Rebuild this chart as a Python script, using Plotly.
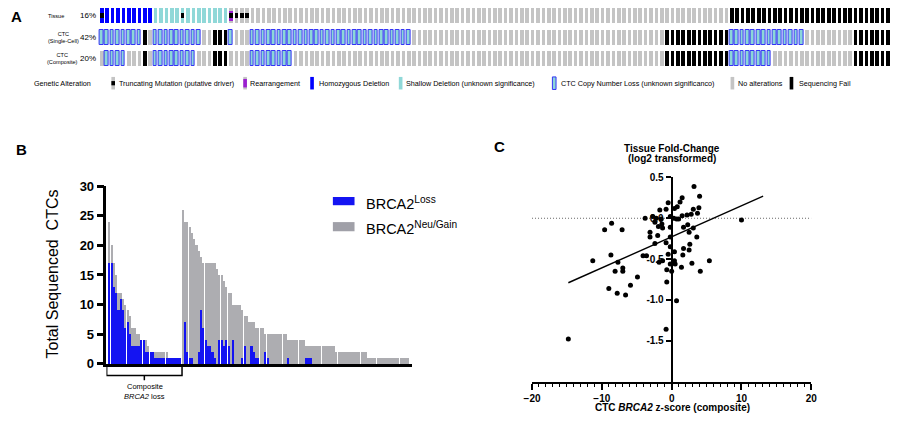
import plotly.graph_objects as go

W, H = 900, 423
FONT = "Liberation Sans, Arial, sans-serif"

# ---------------- Panel A data (oncoprint, one column per patient) ----------------
tissue_runs = [("HOMDEL", 10), ("SHALLOW", 14), ("NONE", 93), ("FAIL", 30)]
single_cell_runs = [("CTC", 8), ("FAIL", 1), ("NONE", 1), ("CTC", 9), ("NONE", 2), ("FAIL", 3),
                    ("CTC", 1), ("NONE", 3), ("CTC", 30), ("NONE", 47), ("FAIL", 12), ("CTC", 14),
                    ("NONE", 9), ("FAIL", 7)]
composite_runs = [("NONE", 1), ("CTC", 4), ("NONE", 3), ("FAIL", 1), ("NONE", 1), ("CTC", 8),
                  ("NONE", 3), ("FAIL", 3), ("NONE", 4), ("CTC", 8), ("NONE", 69), ("FAIL", 12),
                  ("CTC", 8), ("NONE", 15), ("FAIL", 7)]
tissue_truncating = [0, 15, 24, 25, 26, 27]
tissue_rearrangement = [24]
row_labels = ["Tissue", "CTC<br>(Single-Cell)", "CTC<br>(Composite)"]
row_pcts = ["16%", "42%", "20%"]
legend_labels = ["Truncating Mutation (putative driver)", "Rearrangement", "Homozygous Deletion",
                 "Shallow Deletion (unknown significance)",
                 "CTC Copy Number Loss (unknown significanco)", "No alterations", "Sequencing Fail"]

# ---------------- Panel B data ----------------
loss_counts = [17, 17, 13, 12, 9, 11, 9, 6, 7, 5, 3, 3, 3, 3, 4, 4, 2, 2, 2, 2,
               1, 1, 1, 1, 1, 1, 1, 1, 1, 1, 1, 1,
               0, 7, 2, 1, 1, 0, 0, 2, 9, 6, 4, 3, 3, 2, 1, 0, 4, 4, 3, 4,
               3, 0, 4, 0, 0, 0, 1, 3, 0, 0, 3, 2, 1, 1, 0, 0, 2, 1,
               0, 0, 0, 0, 0, 0, 0, 0, 1, 0, 0, 0, 0, 0, 0, 0, 1, 1, 1,
               0, 0, 0, 0, 0, 0, 0, 0, 0, 0, 0, 0, 0, 0, 0, 0, 0, 0, 0, 0, 0,
               0, 0, 0, 0, 0, 0, 0, 0, 0, 0, 0, 0, 0, 0, 0, 0, 0, 0, 0, 0, 0]
total_counts = [24, 20, 17, 15, 12, 12, 11, 10, 9, 8, 6, 6, 5, 5, 4, 4, 4, 3, 2, 2,
                2, 2, 2, 2, 2, 2, 1, 1, 1, 1, 1, 1,
                26, 24, 24, 23, 22, 21, 20, 19, 18, 17, 17, 17, 17, 17, 17, 16, 15, 15, 14, 13,
                12, 12, 10, 10, 10, 10, 9, 8, 8, 7, 7, 7, 6, 6, 6, 6, 5, 5, 5, 5,
                5, 5, 5, 5, 5, 5, 4, 4, 4, 4, 4, 4, 4, 4, 3, 3, 3, 3, 3, 3, 3,
                3, 3, 3, 3, 3, 3, 2, 2, 2, 2, 2, 2, 2, 2, 2, 2, 2, 2, 2, 2, 1,
                1, 1, 1, 1, 1, 1, 1, 1, 1, 1, 1, 1, 1, 1, 1, 1, 1]
composite_loss_n = 32

# ---------------- Panel C data ----------------
zscore = [3.2, 4.0, 1.5, -0.5, 0.8, 1.2, -1.7, -0.8, 0.4, 3.1, 3.9, 2.2, 2.8, 3.7, 1.5,
          -3.8, -2.7, -2.2, -1.5, -0.2, 0.3, 0.7, 1.0, 10.0, -2.4, -1.4, -1.9, -1.3, -0.2, 1.7,
          3.1, 2.3, -9.6, -8.6, -7.1, -3.1, -3.1, -2.0, -0.2, 2.5, 3.6, -2.4, -0.8, -0.2, 2.6,
          1.7, -0.5, 0.4, 1.6, 2.5, -8.7, -11.3, -7.7, -4.1, -3.6, -1.8, -1.3, 0.4, -0.2, 0.5,
          2.9, 5.4, -7.0, -7.0, -8.1, -0.7, 0.0, 1.4, 4.1, -0.7, -5.9, -9.0, -7.8, -6.6, 0.7,
          -0.8, -14.8, -4.9]
fold_change = [0.39, 0.27, 0.25, 0.19, 0.14, 0.20, 0.10, 0.11, 0.12, 0.11, 0.13, 0.04, 0.05, 0.06, 0.03,
               0.0, 0.02, 0.0, -0.01, 0.02, 0.0, -0.01, -0.01, -0.02, -0.05, -0.07, -0.10, -0.12, -0.11, -0.11,
               -0.12, -0.08, -0.14, -0.06, -0.14, -0.17, -0.23, -0.21, -0.23, -0.17, -0.23, -0.31, -0.30, -0.35, -0.32,
               -0.37, -0.44, -0.41, -0.45, -0.39, -0.45, -0.52, -0.54, -0.46, -0.46, -0.54, -0.52, -0.52, -0.56, -0.56,
               -0.55, -0.52, -0.61, -0.65, -0.65, -0.63, -0.65, -0.60, -0.65, -0.78, -0.82, -0.86, -0.92, -0.94, -1.01,
               -1.36, -1.48, -0.72]
fit_x = [-14.8, 13.1]
fit_y = [-0.79, 0.27]


def px(x):
    return x / W


def py(y):
    return 1 - y / H


def expand(runs):
    out = []
    for cat, n in runs:
        out += [cat] * n
    return out


fig = go.Figure()

# ---------------- Panel A: oncoprint ----------------
cat_color = {"HOMDEL": "#0000FF", "SHALLOW": "#90D8D8", "NONE": "#C4C4C4", "FAIL": "#000000", "CTC": "#8CD6D8"}
row_base = [2.22, 1.2, 0.18]
row_h = 0.72
col_w = 0.68
rows = [expand(tissue_runs), expand(single_cell_runs), expand(composite_runs)]
for r, cats in enumerate(rows):
    for cat in ["NONE", "HOMDEL", "SHALLOW", "FAIL", "CTC"]:
        cols = [i for i, c in enumerate(cats) if c == cat]
        if not cols:
            continue
        line = dict(color="#3434F5", width=1) if cat == "CTC" else dict(width=0)
        fig.add_trace(go.Bar(x=cols, y=[row_h] * len(cols), base=[row_base[r]] * len(cols),
                             width=col_w, marker=dict(color=cat_color[cat], line=line),
                             xaxis="x", yaxis="y", hoverinfo="skip", showlegend=False))

fig.add_trace(go.Bar(x=tissue_rearrangement, y=[row_h * 0.64] * len(tissue_rearrangement),
                     base=[row_base[0] + row_h * 0.18] * len(tissue_rearrangement), width=col_w,
                     marker=dict(color="#9B1FD0", line=dict(width=0)),
                     xaxis="x", yaxis="y", hoverinfo="skip", showlegend=False))
fig.add_trace(go.Bar(x=tissue_truncating, y=[row_h / 3] * len(tissue_truncating),
                     base=[row_base[0] + row_h / 3] * len(tissue_truncating), width=col_w,
                     marker=dict(color="#000000", line=dict(width=0)),
                     xaxis="x", yaxis="y", hoverinfo="skip", showlegend=False))

# ---------------- Panel B: bars ----------------
idx = list(range(len(total_counts)))
fig.add_trace(go.Bar(x=idx, y=total_counts, width=0.72, marker=dict(color="#ADADB1", line=dict(width=0)),
                     xaxis="x2", yaxis="y2", name="BRCA2 Neu/Gain", showlegend=False))
fig.add_trace(go.Bar(x=idx, y=loss_counts, width=0.72, marker=dict(color="#1414F2", line=dict(width=0)),
                     xaxis="x2", yaxis="y2", name="BRCA2 Loss", showlegend=False))

# ---------------- Panel C: scatter ----------------
fig.add_trace(go.Scatter(x=fit_x, y=fit_y, mode="lines", line=dict(color="black", width=1.4),
                         xaxis="x3", yaxis="y3", showlegend=False, hoverinfo="skip"))
fig.add_trace(go.Scatter(x=zscore, y=fold_change, mode="markers",
                         marker=dict(color="black", size=5),
                         xaxis="x3", yaxis="y3", showlegend=False))

c_xr = [-20, 20]
c_dom = [px(532.3), px(816)]
c_ypos = c_dom[0] + (0 - c_xr[0]) / (c_xr[1] - c_xr[0]) * (c_dom[1] - c_dom[0])
bold10 = dict(family=FONT, size=10, color="black", weight="bold")

fig.update_layout(
    width=W, height=H, margin=dict(l=0, r=0, t=0, b=0),
    paper_bgcolor="white", plot_bgcolor="white", hovermode=False,
    barmode="overlay", bargap=0, font=dict(family=FONT, color="black"),
    xaxis=dict(domain=[px(90), 1], range=[-0.89, 147.2], visible=False, fixedrange=True),
    yaxis=dict(domain=[py(65), 1], range=[0, 3], visible=False, fixedrange=True),
    xaxis2=dict(domain=[px(100), px(410)], range=[-1.55, 131.5], anchor="y2",
                showline=True, linecolor="black", linewidth=3, showticklabels=False,
                ticks="", showgrid=False, zeroline=False),
    yaxis2=dict(domain=[py(370), py(185.7)], range=[0, 30], anchor="x2",
                showline=True, linecolor="black", linewidth=2.5, ticks="outside",
                ticklen=7, tickwidth=2.5, tickcolor="black", dtick=5, showgrid=False, zeroline=False,
                tickfont=dict(family=FONT, size=13, color="black", weight="bold")),
    xaxis3=dict(domain=c_dom, range=c_xr, anchor="y3", showline=True, linecolor="black",
                linewidth=2, ticks="outside", ticklen=6, tickwidth=2, tickcolor="black",
                tickvals=[-20, -10, 0, 10, 20], showgrid=False, zeroline=False, tickfont=bold10,
                minor=dict(dtick=1, tick0=0, ticks="outside", ticklen=3, tickwidth=1,
                           tickcolor="black", showgrid=False)),
    yaxis3=dict(domain=[py(388.3), py(176.7)], range=[-2.0, 0.5], anchor="free", position=c_ypos,
                showline=True, linecolor="black", linewidth=2, ticks="outside", ticklen=5,
                tickwidth=2, tickcolor="black", tickvals=[0.5, 0, -0.5, -1.0, -1.5],
                ticktext=["0.5", "0.0", "-0.5", "-1.0", "-1.5"], showgrid=False, zeroline=False,
                tickfont=bold10),
)

shapes = []
annotations = []


def text(x, y, s, size, xanchor="center", bold=False, angle=0):
    annotations.append(dict(x=px(x), y=py(y), xref="paper", yref="paper", text=s, showarrow=False,
                            xanchor=xanchor, yanchor="middle", textangle=angle, borderpad=0,
                            font=dict(family=FONT, size=size, color="black",
                                      weight="bold" if bold else "normal")))


def rect(x0, y0, x1, y1, fill, line=None):
    shapes.append(dict(type="rect", xref="paper", yref="paper", x0=px(x0), x1=px(x1),
                       y0=py(y1), y1=py(y0), fillcolor=fill,
                       line=line if line else dict(width=0), layer="above"))


# panel letters
text(9, 10, "A", 15, bold=True)
text(14, 148, "B", 15, bold=True)
text(499, 145, "C", 15, bold=True)

# Panel A row labels
label_x = [49, 56, 55]
row_y = [9.2, 31.2, 53.3]
for i in range(3):
    text(label_x[i], row_y[i], row_labels[i], 5.6)
    text(81, row_y[i], row_pcts[i], 8)

# Panel A legend row
text(25, 79, "Genetic Alteration", 7.2, xanchor="left")
sym_x = [105, 239, 307, 397, 553, 734, 794]
txt_x = [112, 245, 315, 403, 561, 741, 802]
sy0, sy1 = 72.5, 85.5
sw = 3.7
rect(sym_x[0], sy0, sym_x[0] + sw, sy1, cat_color["NONE"])
rect(sym_x[0], 76.8, sym_x[0] + sw, 81.2, "#000000")
rect(sym_x[1], sy0, sym_x[1] + sw, sy1, cat_color["NONE"])
rect(sym_x[1], 74.6, sym_x[1] + sw, 83.4, "#9B1FD0")
rect(sym_x[2], sy0, sym_x[2] + sw, sy1, cat_color["HOMDEL"])
rect(sym_x[3], sy0, sym_x[3] + sw, sy1, cat_color["SHALLOW"])
rect(sym_x[4], sy0, sym_x[4] + sw, sy1, cat_color["CTC"], dict(color="#3434F5", width=1))
rect(sym_x[5], sy0, sym_x[5] + sw, sy1, cat_color["NONE"])
rect(sym_x[6], sy0, sym_x[6] + sw, sy1, cat_color["FAIL"])
for lx, lab in zip(txt_x, legend_labels):
    text(lx, 79, lab, 7.2, xanchor="left")

# Panel B: axis title, legend, composite bracket
text(45, 277, "Total Sequenced  CTCs", 16, angle=-90)
rect(330, 197, 352, 205.5, "#1414F2")
rect(330, 223, 352, 232.5, "#A0A0A8")
text(363, 203, "BRCA2<sup>Loss</sup>", 14.5, xanchor="left")
text(363, 229, "BRCA2<sup>Neu/Gain</sup>", 14.5, xanchor="left")
bx0, bx1 = -1.45, composite_loss_n - 0.6
bline = dict(color="black", width=1.5)
shapes.append(dict(type="path", xref="x2", yref="paper",
                   path=f"M {bx0},{py(373)} L {bx0},{py(382)} L {bx1},{py(382)} L {bx1},{py(373)}",
                   line=bline))
shapes.append(dict(type="line", xref="x2", yref="paper", x0=(bx0 + bx1) / 2, x1=(bx0 + bx1) / 2,
                   y0=py(382), y1=py(387), line=bline))
text(139, 393, "Composite", 7.5)
text(139, 404, "<i>BRCA2</i> loss", 7.5)

# Panel C: zero reference, titles
shapes.append(dict(type="line", xref="x3", yref="y3", x0=-20, x1=20, y0=0, y1=0,
                   line=dict(color="#666666", width=1, dash="1px,2px"), layer="below"))
text(674.5, 146.5, "Tissue Fold-Change", 10, bold=True)
text(674.5, 157.5, "(log2 transformed)", 10, bold=True)
text(674.5, 415.5, "CTC <i>BRCA2</i> z-score (composite)", 10, bold=True)

fig.update_layout(shapes=shapes, annotations=annotations)
fig.write_html("out.html", config={"displayModeBar": False},
               post_script="document.body.style.margin='0';document.body.style.overflow='hidden';")
